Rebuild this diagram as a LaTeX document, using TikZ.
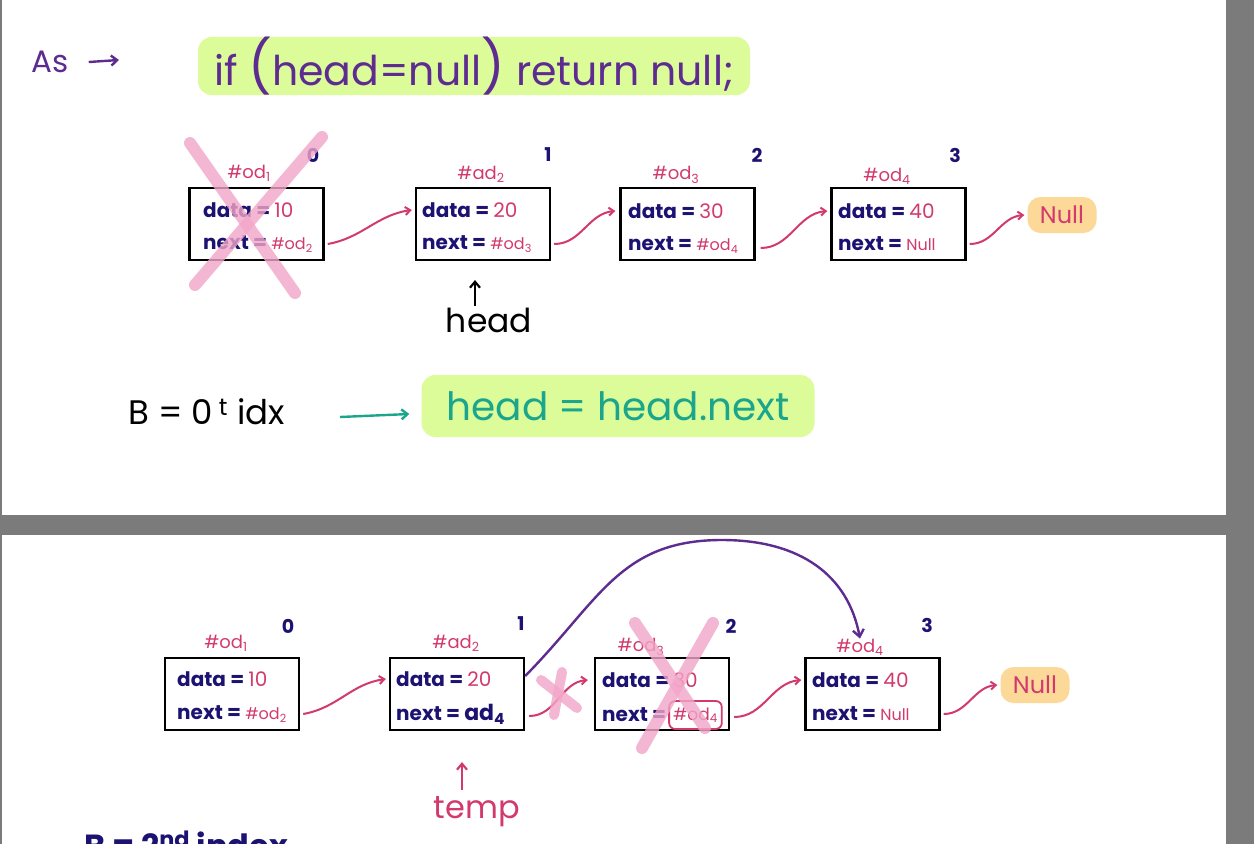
\documentclass[tikz,border=0pt]{standalone}
\usepackage{fontspec}
\setmainfont{Poppins}
\usetikzlibrary{arrows.meta,calc}
\definecolor{bggrey}{HTML}{7B7B7B}
\definecolor{navy}{HTML}{1C1272}
\definecolor{pinkc}{HTML}{D23A6E}
\definecolor{purp}{HTML}{5E2C91}
\definecolor{limehl}{HTML}{DCFC9A}
\definecolor{orangehl}{HTML}{FCD899}
\definecolor{xpink}{HTML}{F2A6C8}
\definecolor{tealc}{HTML}{1BA68C}
\newcommand\fs[1]{\fontsize{#1}{#1}\selectfont}
\newcommand\sbs[1]{\textsubscript{#1}}
\begin{document}
\begin{tikzpicture}[x=1pt,y=-1pt,
  listbox/.style={draw=black, line width=2.4pt, minimum width=134pt, minimum height=72pt, inner sep=0pt},
  boxtxt/.style={anchor=west, inner sep=0pt, text=navy, font=\bfseries\fs{20}},
  addr/.style={text=pinkc, font=\fs{18}, inner sep=0pt},
  idx/.style={text=navy, font=\bfseries\fs{19}, inner sep=0pt},
  link/.style={draw=pinkc, line width=2pt, -{Straight Barb[length=5pt,width=8pt]}},
  cross/.style={draw=xpink, line width=12pt, line cap=round, opacity=0.8},
  hl/.style={fill=limehl, rounded corners=14pt, inner sep=0pt},
  nullbox/.style={fill=orangehl, rounded corners=13pt, minimum width=69pt, minimum height=36pt, text=pinkc, font=\fs{24}, inner sep=0pt}]
\useasboundingbox (0,0) rectangle (1254,844);
\fill[bggrey] (0,0) rectangle (1254,844);
\fill[white] (2,0) rectangle (1226,515);
\fill[white] (2,535) rectangle (1226,844);

% ---------------- top page ----------------
\node[text=purp, font=\fs{31}, inner sep=0pt] (as) at (50,62) {As};
\coordinate (astip) at (119,60);
\draw[purp, line width=2.4pt, -{Straight Barb[length=6pt,width=10pt]}] ($(as.east)+(20,0)$) -- (astip);
\node[hl, minimum width=552pt, minimum height=57pt, text=purp, font=\fs{41}] (cond) at (474,66)
  {if {\fs{52}(}head=null{\fs{52})} return null;};

% boxes
\node[listbox] (b0) at (256.5,224) {};
\node[listbox] (b1) at (483,224) {};
\node[listbox] (b2) at (687.5,224) {};
\node[listbox] (b3) at (898.5,224) {};

\node[boxtxt] (d0) at (203,210) {data = \textcolor{pinkc}{\mdseries 10}};
\node[boxtxt] (n0) at (203,244) {next = \textcolor{pinkc}{\mdseries\fs{16}\#od\sbs{2}}};
\node[boxtxt] (d1) at (422,210) {data = \textcolor{pinkc}{\mdseries 20}};
\node[boxtxt] (n1) at (422,244) {next = \textcolor{pinkc}{\mdseries\fs{16}\#od\sbs{3}}};
\node[boxtxt] (d2) at (628,211) {data = \textcolor{pinkc}{\mdseries 30}};
\node[boxtxt] (n2) at (628,245) {next = \textcolor{pinkc}{\mdseries\fs{16}\#od\sbs{4}}};
\node[boxtxt] (d3) at (838,211) {data = \textcolor{pinkc}{\mdseries 40}};
\node[boxtxt] (n3) at (838,244) {next = \textcolor{pinkc}{\mdseries\fs{16}Null}};

\node[addr] (a0) at (249,173) {\#od\sbs{1}};
\node[addr] (a1) at (481,174) {\#ad\sbs{2}};
\node[addr] (a2) at (676,175) {\#od\sbs{3}};
\node[addr] (a3) at (887,176) {\#od\sbs{4}};
\node[idx] (i0) at (313,155) {0};
\node[idx] (i1) at (548,155) {1};
\node[idx] (i2) at (757,155) {2};
\node[idx] (i3) at (955,155) {3};

\node[nullbox] (null1) at (1062,215) {Null};

\draw[link] ($(b0.east |- n0)+(3,0)$) to[out=10,in=188] ($(b1.west |- d1)+(-3,0)$);
\draw[link] ($(b1.east |- n1)+(3,0)$) to[out=0,in=185] ($(b2.west |- d2)+(-4,0)$);
\draw[link] ($(b2.east |- n2)+(5,3)$) to[out=0,in=185] ($(b3.west |- d3)+(-3,0)$);
\draw[link] ($(b3.east |- n3)+(3,0)$) to[out=0,in=185] ($(null1.west)+(-3,0)$);

\draw[cross] (190,143) -- (295,293);
\draw[cross] (322,137) -- (195,285);

\node[font=\fs{33}, inner sep=0pt] (headlbl) at (489,320) {head};
\coordinate (htip) at (475,280);
\draw[black, line width=2.2pt, -{Straight Barb[length=6pt,width=10pt]}] (475,306) -- (htip);

\node[font=\fs{34}, inner sep=0pt, anchor=west] (bidx) at (128,412) {B = 0\,\textsuperscript{t} idx};
\node[hl, minimum width=393pt, minimum height=62pt, text=tealc, font=\fs{39}] (hl2) at (618,406) {head = head.next};
\draw[tealc, line width=2.4pt, -{Straight Barb[length=6pt,width=10pt]}] (340,417) -- ($(hl2.west)+(-12,8)$);

% ---------------- bottom page ----------------
\node[listbox] (c0) at (232,694) {};
\node[listbox] (c1) at (457,694) {};
\node[listbox] (c2) at (662,694) {};
\node[listbox] (c3) at (872.5,694) {};

\node[boxtxt] (e0) at (177,679) {data = \textcolor{pinkc}{\mdseries 10}};
\node[boxtxt] (f0) at (177,714) {next = \textcolor{pinkc}{\mdseries\fs{16}\#od\sbs{2}}};
\node[boxtxt] (e1) at (396,679) {data = \textcolor{pinkc}{\mdseries 20}};
\node[boxtxt] (f1) at (396,714) {next = {\fs{22}ad\sbs{4}}};
\node[boxtxt] (e2) at (602,680) {data = \textcolor{pinkc}{\mdseries 30}};
\node[boxtxt] (f2) at (602,715) {next =};
\node[addr, draw=pinkc, line width=1.8pt, rounded corners=6pt, inner xsep=4pt, minimum height=28pt, anchor=west, font=\fs{17}] (f2a) at ($(f2.east)+(2,0)$) {\#od\sbs{4}};
\node[boxtxt] (e3) at (812,680) {data = \textcolor{pinkc}{\mdseries 40}};
\node[boxtxt] (f3) at (812,714) {next = \textcolor{pinkc}{\mdseries\fs{16}Null}};

\node[addr] (g0) at (226,643) {\#od\sbs{1}};
\node[addr] (g1) at (456,643) {\#ad\sbs{2}};
\node[addr] (g2) at (641,647) {\#od\sbs{3}};
\node[addr] (g3) at (860,647) {\#od\sbs{4}};
\node[idx] (j0) at (288,626) {0};
\node[idx] (j1) at (521,624) {1};
\node[idx] (j2) at (731,626) {2};
\node[idx] (j3) at (927,625) {3};

\node[nullbox] (null2) at (1035,685) {Null};

\draw[link] ($(c0.east |- f0)+(3,0)$) to[out=10,in=188] ($(c1.west |- e1)+(-3,0)$);
\draw[link] ($(c1.east |- f1)+(4,2)$) to[out=0,in=185] ($(c2.west |- e2)+(-6,0)$);
\draw[link] ($(c2.east |- f2)+(4,2)$) to[out=0,in=185] ($(c3.west |- e3)+(-3,0)$);
\draw[link] ($(c3.east |- f3)+(3,0)$) to[out=0,in=185] ($(null2.west)+(-3,0)$);

\draw[purp, line width=2.4pt, -{Straight Barb[length=7pt,width=11pt]}]
  ($(c1.east |- e1)+(0,-3)$) .. controls (600,600) and (620,540) .. (722,540)
  .. controls (800,540) and (848,575) .. (g3.north);

\draw[cross] (635,623) -- (705,728);
\draw[cross] (713,623) -- (642,748);
\draw[cross, line width=10pt] (541,680) -- (577,708);
\draw[cross, line width=10pt] (562,672) -- (554,715);

\node[text=pinkc, font=\fs{32}, inner sep=0pt] (templbl) at (477,812) {temp};
\coordinate (ttip) at (462,762);
\draw[pinkc, line width=2.2pt, -{Straight Barb[length=6pt,width=10pt]}] (462,790) -- (ttip);

\begin{scope}
\clip (2,535) rectangle (1226,844);
\node[text=navy, font=\bfseries\fs{32}, inner sep=0pt, anchor=base west] (bnd) at (84,857) {B = 2\textsuperscript{nd} index};
\end{scope}
\end{tikzpicture}
\end{document}
